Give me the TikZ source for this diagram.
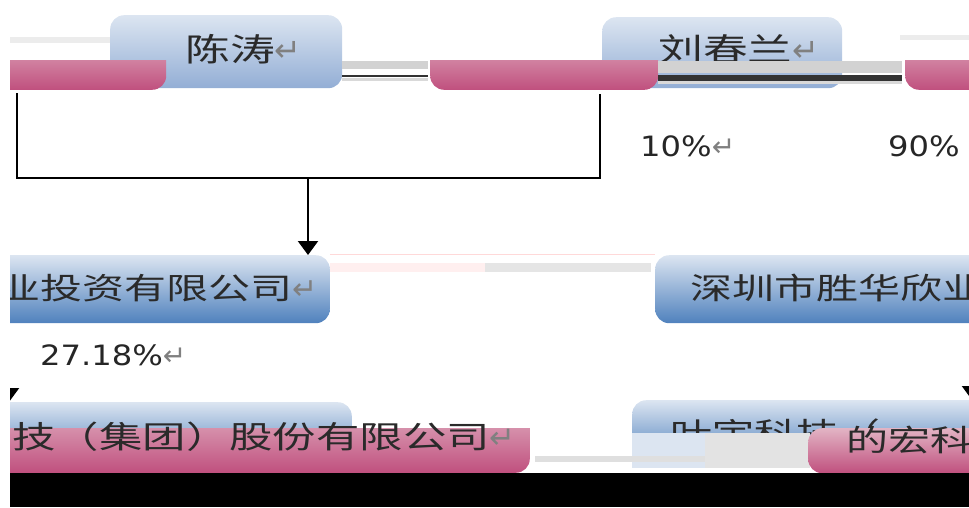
\documentclass[tikz,border=0pt]{standalone}
\usepackage{fontspec}
\setmainfont[FakeStretch=1.15]{DejaVu Sans}
\newfontfamily\cjk[FakeStretch=1.4]{Noto Sans CJK SC}
\newfontfamily\symfont{DejaVu Sans}
\usetikzlibrary{arrows.meta}

\definecolor{boxtop}{HTML}{DCE5F1}
\definecolor{boxbot}{HTML}{4F81BD}
\definecolor{namebot}{HTML}{93AED5}
\definecolor{pinktop}{HTML}{E2B4C4}
\definecolor{pinkbot}{HTML}{C0507E}
\definecolor{inkgray}{HTML}{2A2A2A}

\newcommand{\crsym}{{\symfont\color{gray}\char"21B5}}

\tikzset{
    holder/.style={rounded corners=14pt, top color=boxtop, bottom color=boxbot, inner sep=0pt},
    nametop/.style={rounded corners=14pt, top color=boxtop, bottom color=namebot, inner sep=0pt},
    pinkbox/.style={rounded corners=14pt, top color=pinktop, bottom color=pinkbot, inner sep=0pt},
    cjktext/.style={font=\cjk\fontsize{30}{30}\selectfont, text=inkgray, inner sep=0pt},
    share/.style={font=\fontsize{28}{28}\selectfont, text=black!85, inner sep=0pt},
    link/.style={black, line width=2.2pt},
    tip/.style={-{Triangle[width=20pt,length=14pt]}}
}

\begin{document}
\begin{tikzpicture}[x=1pt,y=-1pt]
    \useasboundingbox (0,0) rectangle (969,507);
    \clip (10,0) rectangle (969,507);

    \fill[gray!15] (10,37) rectangle (118,43);
    \fill[gray!15] (900,35) rectangle (969,40);

    % owners
    \node[nametop, minimum width=232pt, minimum height=73pt, anchor=north west] (chen) at (110,15) {};
    \node[nametop, minimum width=240pt, minimum height=71pt, anchor=north west] (liu) at (602,17) {};
    \node[cjktext, font=\cjk\fontsize{32}{32}\selectfont, anchor=west] (chentxt) at (185,49) {陈涛\crsym};
    \node[cjktext, font=\cjk\fontsize{32}{32}\selectfont, anchor=west] (liutxt) at (658,49) {刘春兰\crsym};

    \begin{scope}
        \clip (0,60) rectangle (969,95);
        \node[pinkbox, minimum width=176pt, minimum height=60pt, anchor=south west] (p1) at (-10,90) {};
        \node[pinkbox, minimum width=228pt, minimum height=60pt, anchor=south west] (p2) at (430,90) {};
        \node[pinkbox, minimum width=100pt, minimum height=60pt, anchor=south west] (p3) at (905,90) {};
    \end{scope}

    \fill[gray!35] (342,61) rectangle (428,69);
    \fill[black!80] (342,75) rectangle (428,77);
    \fill[gray!30] (342,78) rectangle (428,81);
    \fill[gray!35] (658,61) rectangle (902,73);
    \fill[black!80] (658,75) rectangle (902,81);
    \fill[gray!30] (658,81) rectangle (902,84);

    \node[share, anchor=west] (s10) at (640,146) {10\%\crsym};
    \node[share, anchor=west] (s90) at (888,146) {90\%};

    % investment companies
    \node[holder, minimum width=350pt, minimum height=68pt, anchor=north east] (inv) at (330,255) {};
    \node[holder, minimum width=345pt, minimum height=68pt, anchor=north west] (sh) at (655,255) {};
    \node[cjktext, anchor=east] (invtxt) at (318,288) {业投资有限公司\crsym};
    \node[cjktext, anchor=west] (shtxt) at (690,288) {深圳市胜华欣业投资有限公司};

    \draw[pink!60, line width=1pt] (330,254) -- (655,254);
    \fill[pink!25] (330,263) rectangle (485,272);
    \fill[gray!20] (485,263) rectangle (651,272);

    \coordinate (split) at (308,178);
    \draw[link, shorten <=3pt, shorten >=4pt] (p1.south -| 17,0) |- (split) -| (p2.south -| 600,0);
    \draw[link, tip] (split) -- (inv.north -| split);

    \node[share, anchor=west] (s27) at (40,355) {27.18\%\crsym};

    % listed companies
    \node[holder, minimum width=372pt, minimum height=60pt, anchor=north east] (grp) at (352,402) {};
    \node[holder, minimum width=370pt, minimum height=60pt, anchor=north west] (lr) at (632,400) {};
    \draw[link, tip] (inv.south -| 9,0) -- (grp.north -| 9,0);
    \draw[link, tip] (sh.south -| 972,0) -- (lr.north -| 972,0);

    \begin{scope}
        \clip (0,428) rectangle (969,480);
        \node[pinkbox, minimum width=550pt, minimum height=70pt, anchor=south east] (grppink) at (530,473) {};
    \end{scope}
    \node[cjktext, font=\cjk\fontsize{31}{31}\selectfont, anchor=east] (grptxt) at (516,437) {技（集团）股份有限公司\crsym};

    \node[cjktext, anchor=west] (lrtxt) at (670,433) {叶宇科技（};
    \fill[boxtop] (632,433) rectangle (705,468);
    \fill[gray!22] (705,433) rectangle (810,468);
    \fill[gray!25] (535,456) rectangle (705,462);
    \node[pinkbox, minimum width=200pt, minimum height=45pt, anchor=north west] (lrpink) at (808,428) {};
    \node[cjktext, anchor=west] (lrpinktxt) at (846,440) {的宏科技};

    \fill[black] (10,473) rectangle (969,507);
\end{tikzpicture}
\end{document}
